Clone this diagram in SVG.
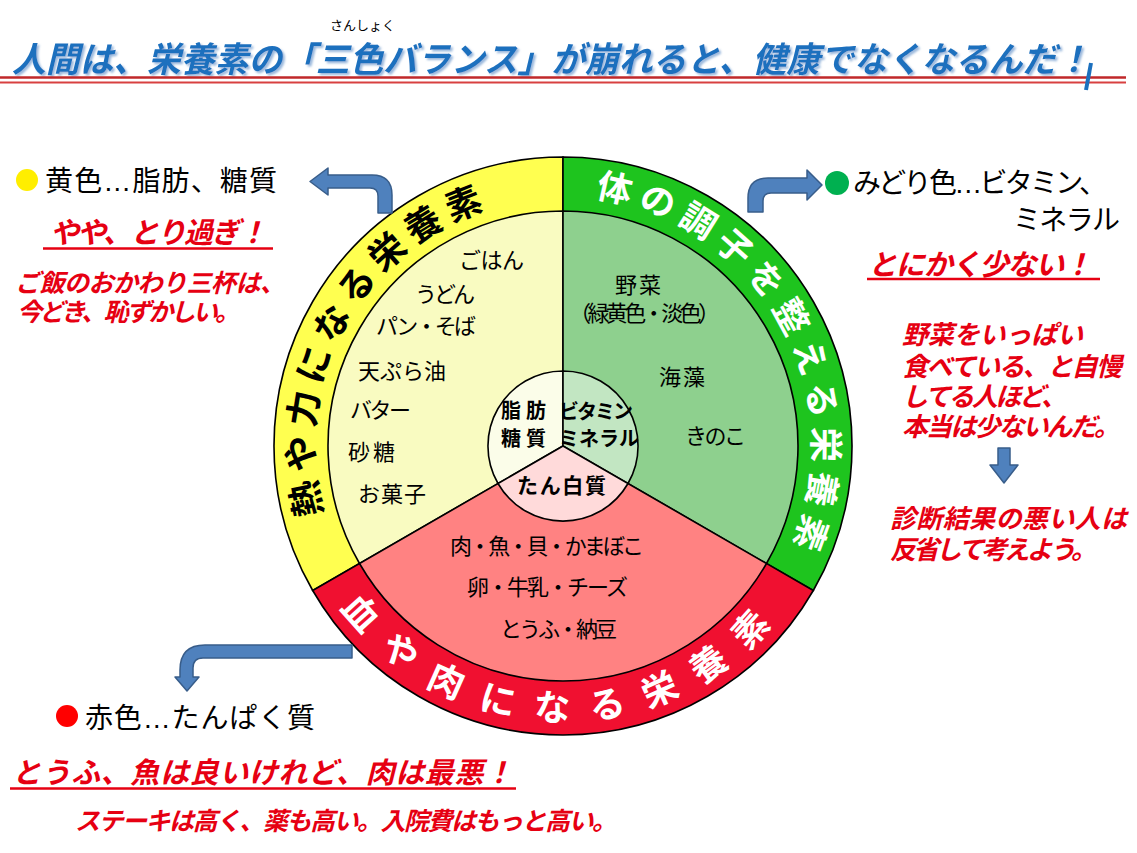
<svg xmlns="http://www.w3.org/2000/svg" width="1137" height="853" viewBox="0 0 1137 853">
<defs>
<style>
text{font-family:"Liberation Sans","Noto Sans CJK JP",sans-serif;}
.blk{fill:#000;font-size:28px;}
.red{fill:#E60012;font-style:italic;font-weight:bold;}
.in{fill:#000;font-size:22px;}
.ctr{fill:#000;font-size:20px;font-weight:bold;}
.ring{font-size:36px;font-weight:bold;}
.edge{stroke:#000;stroke-width:1.6;}
.arrow{fill:#4F81BD;stroke:#385D8A;stroke-width:1.5;stroke-linejoin:round;}
.ul{stroke:#E60012;stroke-width:2.5;}
</style>
<filter id="shadow" x="-5%" y="-30%" width="110%" height="160%">
<feDropShadow dx="2" dy="2" stdDeviation="0.8" flood-color="#8FB0D8" flood-opacity="0.9"/>
</filter>
<path id="arcY" d="M 347.4 570.5 A 249 249 0 0 1 563 197"/>
<path id="arcG" d="M 563 196 A 250 250 0 0 1 779.5 571"/>
<path id="arcR" d="M 324.8 583.5 A 275 275 0 0 0 801.2 583.5"/>
</defs>
<rect width="1137" height="853" fill="#fff"/>

<g id="title">
<text x="330" y="30" style="font-size:13px;fill:#000">さんしょく</text>
<text x="12" y="72" textLength="1078" lengthAdjust="spacingAndGlyphs" filter="url(#shadow)" style="font-size:35px;font-weight:bold;font-style:italic;fill:#1C70BE">人間は、栄養素の「三色バランス」が崩れると、健康でなくなるんだ！</text>
<line x1="0" y1="77.5" x2="1126" y2="77.5" stroke="#C0282A" stroke-width="2.5"/>
<line x1="0" y1="82.5" x2="1126" y2="82.5" stroke="#D84040" stroke-width="2"/>
<line x1="1091" y1="63" x2="1086" y2="90" stroke="#1C70BE" stroke-width="4"/>
</g>

<g id="wheel">
<g id="ring-yellow">
<path d="M 563 446 L 312.7 590.5 A 289 289 0 0 1 563 157 Z" fill="#FFFF50" class="edge"/>
</g>
<g id="ring-green">
<path d="M 563 446 L 563 157 A 289 289 0 0 1 813.3 590.5 Z" fill="#1EC41E" class="edge"/>
</g>
<g id="ring-red">
<path d="M 563 446 L 813.3 590.5 A 289 289 0 0 1 312.7 590.5 Z" fill="#F01030" class="edge"/>
</g>
<g id="sector-yellow">
<path d="M 563 446 L 359.5 563.5 A 235 235 0 0 1 563 211 Z" fill="#F9FBC1" class="edge"/>
</g>
<g id="sector-green">
<path d="M 563 446 L 563 211 A 235 235 0 0 1 766.5 563.5 Z" fill="#8ED08E" class="edge"/>
</g>
<g id="sector-red">
<path d="M 563 446 L 766.5 563.5 A 235 235 0 0 1 359.5 563.5 Z" fill="#FF8282" class="edge"/>
</g>
<g id="center">
<path d="M 563 446 L 498 483.5 A 75 75 0 0 1 563 371 Z" fill="#FBFDE9" class="edge"/>
<path d="M 563 446 L 563 371 A 75 75 0 0 1 628 483.5 Z" fill="#C2E6C2" class="edge"/>
<path d="M 563 446 L 628 483.5 A 75 75 0 0 1 498 483.5 Z" fill="#FFDADA" class="edge"/>
</g>
<text class="ring" style="fill:#000;letter-spacing:7px"><textPath href="#arcY" startOffset="49%" text-anchor="middle">熱や力になる栄養素</textPath></text>
<text class="ring" style="fill:#fff;font-size:35px;letter-spacing:7.8px"><textPath href="#arcG" startOffset="51%" text-anchor="middle">体の調子を整える栄養素</textPath></text>
<text class="ring" style="fill:#fff;letter-spacing:21.6px"><textPath href="#arcR" startOffset="50%" text-anchor="middle">血や肉になる栄養素</textPath></text>

<g id="foods-yellow">
<text class="in" x="459" y="268" textLength="65">ごはん</text>
<text class="in" x="415" y="302" textLength="60">うどん</text>
<text class="in" x="376" y="334" textLength="100">パン・そば</text>
<text class="in" x="358" y="379" textLength="88">天ぷら油</text>
<text class="in" x="350" y="418" textLength="61">バター</text>
<text class="in" x="348" y="460" textLength="47">砂糖</text>
<text class="in" x="358" y="502" textLength="68">お菓子</text>
</g>
<g id="foods-green">
<text class="in" x="615" y="293" textLength="46">野菜</text>
<text class="in" x="569" y="321" textLength="151">（緑黄色・淡色）</text>
<text class="in" x="659" y="385" textLength="46">海藻</text>
<text class="in" x="685" y="444" textLength="61">きのこ</text>
</g>
<g id="foods-red">
<text class="in" x="450" y="554" textLength="194">肉・魚・貝・かまぼこ</text>
<text class="in" x="467" y="595" textLength="161">卵・牛乳・チーズ</text>
<text class="in" x="500" y="637" textLength="117">とうふ・納豆</text>
</g>
<g id="center-labels">
<text class="ctr" x="501" y="418" textLength="45">脂肪</text>
<text class="ctr" x="501" y="446" textLength="45">糖質</text>
<text class="ctr" x="559" y="419" textLength="74">ビタミン</text>
<text class="ctr" x="559" y="446" textLength="80">ミネラル</text>
<text class="ctr" x="517" y="493" textLength="89" style="font-size:21px">たん白質</text>
</g>
</g>

<g id="note-yellow">
<circle cx="27" cy="180" r="11" fill="#FFEE00"/>
<text class="blk" x="45" y="191" textLength="232">黄色…脂肪、糖質</text>
<text class="red" x="50" y="243" textLength="217" style="font-size:29px">やや、とり過ぎ！</text>
<line class="ul" x1="43" y1="248.5" x2="273" y2="248.5"/>
<text class="red" x="15" y="291.5" textLength="270" style="font-size:25px">ご飯のおかわり三杯は、</text>
<text class="red" x="17" y="320.5" textLength="223" style="font-size:25px">今どき、恥ずかしい。</text>
</g>

<g id="note-green">
<circle cx="837" cy="183" r="12" fill="#00B050"/>
<text class="blk" x="853" y="193" textLength="254">みどり色…ビタミン、</text>
<text class="blk" x="1013" y="230" textLength="107">ミネラル</text>
<text class="red" x="868" y="275" textLength="224" style="font-size:29px">とにかく少ない！</text>
<line class="ul" x1="867" y1="279" x2="1100" y2="279"/>
</g>

<g id="note-right">
<text class="red" x="902" y="344" textLength="181" style="font-size:26px">野菜をいっぱい</text>
<text class="red" x="902" y="376" textLength="220" style="font-size:26px">食べている、と自慢</text>
<text class="red" x="902" y="406" textLength="165" style="font-size:26px">してる人ほど、</text>
<text class="red" x="902" y="436" textLength="218" style="font-size:26px">本当は少ないんだ。</text>
<text class="red" x="890" y="528" textLength="237" style="font-size:26px">診断結果の悪い人は</text>
<text class="red" x="890" y="559" textLength="207" style="font-size:26px">反省して考えよう。</text>
</g>

<g id="note-red">
<circle cx="67" cy="716" r="11" fill="#FF0000"/>
<text class="blk" x="85" y="727.5" textLength="230">赤色…たんぱく質</text>
<text class="red" x="12" y="783" textLength="501" style="font-size:29px">とうふ、魚は良いけれど、肉は最悪！</text>
<line class="ul" x1="10" y1="788.5" x2="516" y2="788.5"/>
<text class="red" x="75" y="829.5" textLength="542" style="font-size:25px">ステーキは高く、薬も高い。入院費はもっと高い。</text>
</g>

<g id="connectors">
<path class="arrow" d="M 378 213 L 378 196 Q 378 188 370 188 L 328 188 L 328 195 L 310 181.5 L 328 168 L 328 175 L 372 175 Q 392 175 392 195 L 392 213 Z"/>
<path class="arrow" d="M 763 212 L 763 201 Q 763 193 771 193 L 807 193 L 807 200 L 822 185 L 807 170 L 807 178 L 768 178 Q 748 178 748 198 L 748 212 Z"/>
<path class="arrow" d="M 352 645 L 205 645 Q 180 645 180 670 L 180 677 L 175 677 L 187 691 L 199 677 L 193 677 L 193 668 Q 193 658 203 658 L 352 658 Z"/>
<path class="arrow" d="M 998 448 L 1010 448 L 1010 465 L 1018 465 L 1004 483 L 990 465 L 998 465 Z"/>
</g>
</svg>
